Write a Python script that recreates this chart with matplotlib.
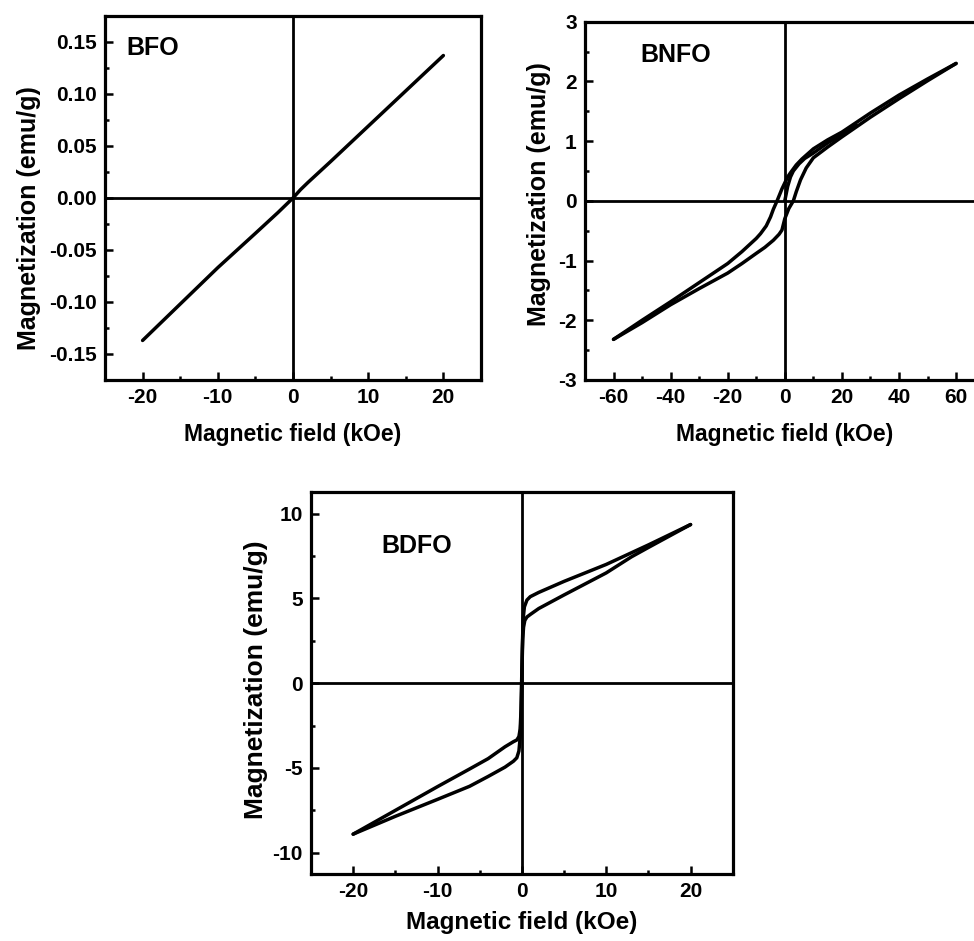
import matplotlib
matplotlib.use("Agg")
import matplotlib.pyplot as plt
from matplotlib.ticker import MultipleLocator, FormatStrFormatter

plt.rcParams['font.family'] = ['Liberation Sans', 'DejaVu Sans']
plt.rcParams['font.weight'] = 'bold'
plt.rcParams['axes.unicode_minus'] = False

# BFO: nearly linear, both branches overlap
bfo_h = [-20, -15, -10, -5, -2, -1, 0, 1, 2, 5, 10, 15, 20]
bfo_m = [-0.137, -0.102, -0.067, -0.034, -0.014, -0.007, 0.0, 0.008, 0.015, 0.035, 0.069, 0.103, 0.137]

# BNFO loop
bnfo_down_h = [60, 50, 40, 30, 20, 15, 10, 6, 4, 2, 1, 0, -1, -2.7, -4, -5, -6.5, -8.5, -10, -15, -20, -30, -40, -50, -60]
bnfo_down_m = [2.30, 2.04, 1.77, 1.47, 1.15, 1.02, 0.87, 0.70, 0.60, 0.47, 0.40, 0.30, 0.20, 0.0, -0.14, -0.27, -0.42, -0.55, -0.63, -0.85, -1.05, -1.37, -1.69, -2.0, -2.32]
bnfo_up_h = [-60, -50, -40, -30, -20, -15, -10, -7, -4, -2, -1, 0, 1.4, 3, 4, 5.5, 7.5, 10, 15, 20, 30, 40, 50, 60]
bnfo_up_m = [-2.32, -2.04, -1.74, -1.47, -1.21, -1.05, -0.88, -0.78, -0.66, -0.56, -0.49, -0.30, -0.13, 0.0, 0.15, 0.35, 0.55, 0.72, 0.90, 1.07, 1.40, 1.71, 2.01, 2.30]
bnfo_virgin_h = [0, 0.5, 1, 2, 3, 5, 7, 10, 15, 20, 25]
bnfo_virgin_m = [0.0, 0.12, 0.24, 0.40, 0.50, 0.62, 0.71, 0.80, 0.97, 1.11, 1.27]

# BDFO loop
bdfo_down_h = [20, 15, 10, 5, 2, 1, 0.6, 0.3, 0.15, 0.05, 0, -0.05, -0.1, -0.2, -0.35, -0.6, -1, -2, -4, -6.2, -10, -15, -20]
bdfo_down_m = [9.35, 8.15, 7.0, 6.0, 5.35, 5.1, 4.9, 4.5, 3.8, 2.0, 0.8, -0.5, -1.6, -2.7, -3.15, -3.35, -3.45, -3.75, -4.45, -5.06, -6.1, -7.5, -8.9]
bdfo_up_h = [-20, -15, -10, -6.2, -4, -2, -1, -0.6, -0.35, -0.2, -0.1, -0.05, 0, 0.05, 0.1, 0.2, 0.35, 0.6, 1, 2, 5, 10, 13, 15, 20]
bdfo_up_m = [-8.9, -7.85, -6.85, -6.08, -5.5, -4.95, -4.6, -4.4, -4.0, -3.2, -2.0, -0.8, 0.5, 1.6, 2.6, 3.3, 3.7, 3.9, 4.05, 4.4, 5.2, 6.5, 7.45, 8.0, 9.35]

fig = plt.figure(figsize=(9.74, 9.41), dpi=100)

ax1 = fig.add_axes([0.1078, 0.5962, 0.386, 0.3868])
ax2 = fig.add_axes([0.6006, 0.5962, 0.4103, 0.3808])
ax3 = fig.add_axes([0.3193, 0.0712, 0.433, 0.4056])

lw = 2.5

ax1.plot(bfo_h, bfo_m, color='black', lw=lw, solid_capstyle='round')

ax2.plot(bnfo_down_h, bnfo_down_m, color='black', lw=lw, solid_capstyle='round')
ax2.plot(bnfo_up_h, bnfo_up_m, color='black', lw=lw, solid_capstyle='round')
ax2.plot(bnfo_virgin_h, bnfo_virgin_m, color='black', lw=lw, solid_capstyle='round')

ax3.plot(bdfo_down_h, bdfo_down_m, color='black', lw=lw, solid_capstyle='round')
ax3.plot(bdfo_up_h, bdfo_up_m, color='black', lw=lw, solid_capstyle='round')

settings = [
    (ax1, (-25, 25), (-0.175, 0.175), [-20, -10, 0, 10, 20], 5,
     [-0.15, -0.10, -0.05, 0.0, 0.05, 0.10, 0.15], 0.025, 'BFO', (0.058, 0.912),
     11, 6, 16.5, 18, 0.445),
    (ax2, (-70, 70), (-3, 3), [-60, -40, -20, 0, 20, 40, 60], 10,
     [-3, -2, -1, 0, 1, 2, 3], 0.5, 'BNFO', (0.138, 0.907),
     11, 5, 16.5, 18, 0.52),
    (ax3, (-25, 25), (-11.25, 11.25), [-20, -10, 0, 10, 20], 5,
     [-10, -5, 0, 5, 10], 2.5, 'BDFO', (0.168, 0.859),
     7, 3, 17.5, 19, 0.51),
]

for (ax, xl, yl, xt, xmin, yt, ymin, name, pos,
     xpad, ypad, xfs, yfs, ylab_y) in settings:
    ax.axhline(0, color='black', lw=2.0, zorder=1)
    ax.axvline(0, color='black', lw=2.0, zorder=1)
    ax.set_xticks(xt)
    ax.set_yticks(yt)
    ax.xaxis.set_minor_locator(MultipleLocator(xmin))
    ax.yaxis.set_minor_locator(MultipleLocator(ymin))
    for s in ax.spines.values():
        s.set_linewidth(2.3)
    ax.tick_params(which='both', direction='in', top=False, right=False, width=1.8)
    ax.tick_params(which='major', length=5.5)
    ax.tick_params(which='minor', length=3)
    ax.tick_params(axis='x', which='major', pad=6, labelsize=15)
    ax.tick_params(axis='y', which='major', pad=6, labelsize=15)
    ax.set_xlabel('Magnetic field (kOe)', fontsize=xfs, fontweight='bold', labelpad=xpad)
    ax.set_ylabel('Magnetization (emu/g)', fontsize=yfs, fontweight='bold', labelpad=ypad)
    ax.yaxis.label.set_y(ylab_y)
    ax.text(pos[0], pos[1], name, transform=ax.transAxes, fontsize=18,
            fontweight='bold', ha='left', va='center')
    ax.set_xlim(*xl)
    ax.set_ylim(*yl)

ax1.yaxis.set_major_formatter(FormatStrFormatter('%.2f'))

for ax in (ax1, ax2, ax3):
    for lab in ax.get_xticklabels() + ax.get_yticklabels():
        lab.set_fontweight('bold')

fig.savefig('out.png', dpi=100)
